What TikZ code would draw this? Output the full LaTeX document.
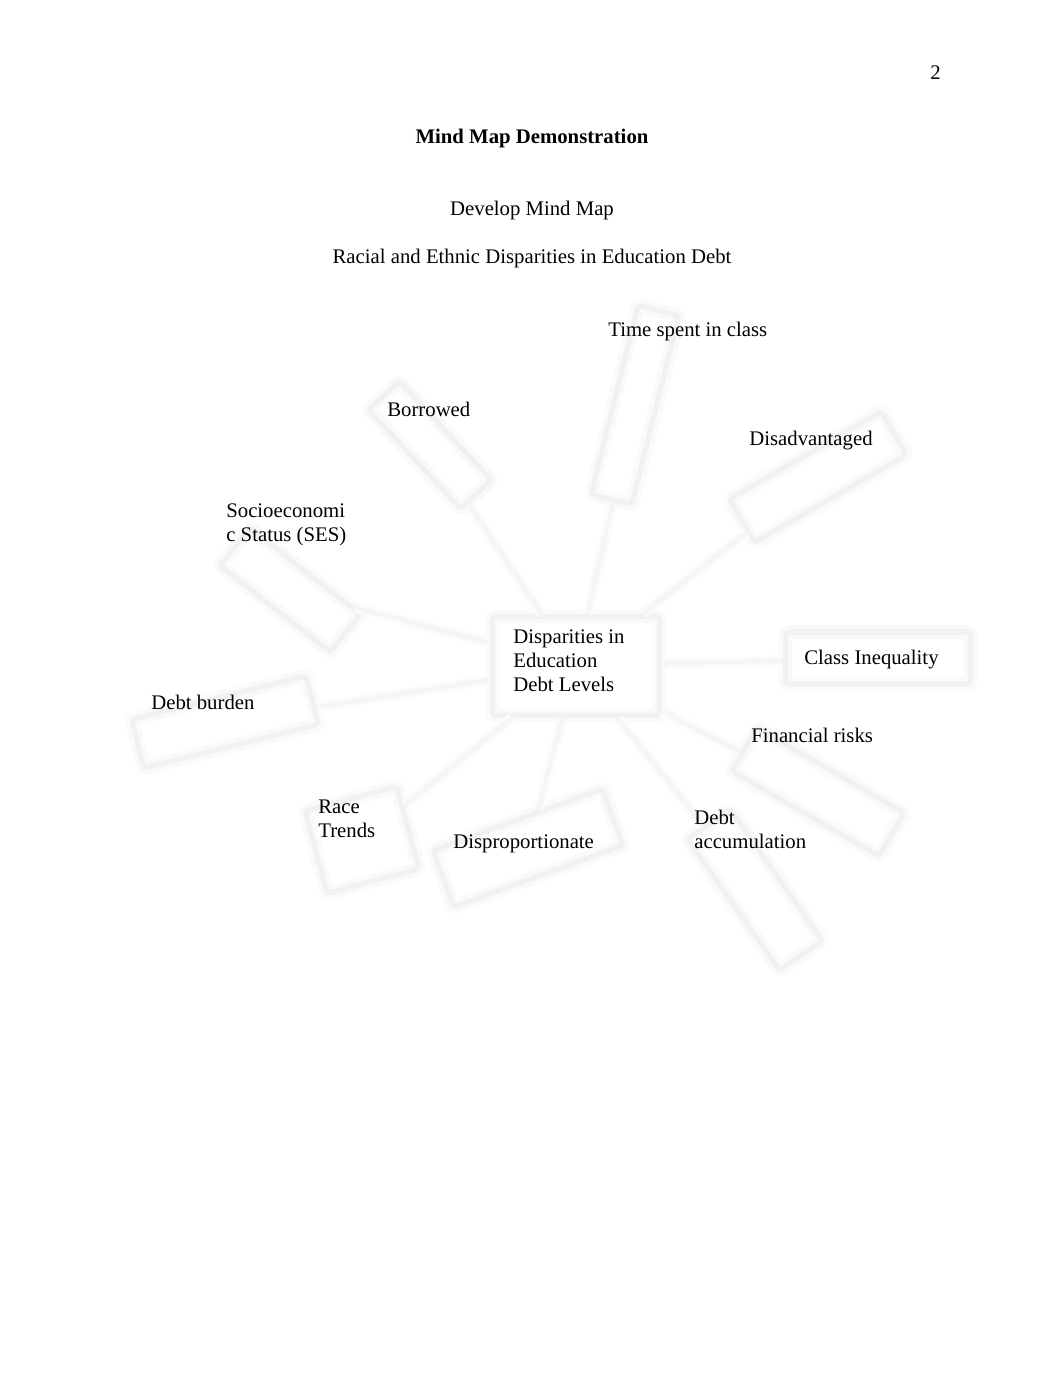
\documentclass[tikz,border=0pt]{standalone}
\usepackage{fontspec}
\setmainfont{Liberation Serif}
\usepackage{tikz}
\usetikzlibrary{positioning}

\newcommand{\pxu}{0.5784pt}

\begin{document}
\begin{tikzpicture}[
    x=0.5784pt, y=-0.5784pt,
    mapbox/.style={draw=gray!11, line width=3pt, rounded corners=2pt, inner sep=0pt,
        preaction={draw=gray!4, line width=8pt}},
    link/.style={draw=gray!8, line width=2.5pt, preaction={draw=gray!3, line width=6pt}},
    label/.style={inner sep=0pt, anchor=base west, align=left, font=\fontsize{12}{13.8}\selectfont},
    head/.style={inner sep=0pt, anchor=base, font=\fontsize{12}{13.8}\selectfont}
]
    \fill[white] (0,0) rectangle (1062,1376);
    \useasboundingbox (0,0) rectangle (1062,1376);

    % page header
    \node[label] (page) at (930,80) {2};
    \node[head, font=\fontsize{12}{13.8}\selectfont\bfseries] (title) at (532,144) {Mind Map Demonstration};
    \node[head] (sub) at (532,216) {Develop Mind Map};
    \node[head] (topic) at (532,264) {Racial and Ethnic Disparities in Education Debt};

    % boxes
    \node[mapbox, minimum width=167*\pxu, minimum height=99*\pxu] (hub) at (576,666) {};
    \node[mapbox, minimum width=195*\pxu, minimum height=42*\pxu, rotate=76] (time) at (635,405) {};
    \node[mapbox, minimum width=135*\pxu, minimum height=42*\pxu, rotate=-47] (borrow) at (430,445) {};
    \node[mapbox, minimum width=140*\pxu, minimum height=48*\pxu, rotate=-38] (ses) at (290,590) {};
    \node[mapbox, minimum width=180*\pxu, minimum height=50*\pxu, rotate=14] (burden) at (225,722) {};
    \node[mapbox, minimum width=95*\pxu, minimum height=85*\pxu, rotate=15] (race) at (362,840) {};
    \node[mapbox, minimum width=180*\pxu, minimum height=60*\pxu, rotate=20] (dispro) at (528,848) {};
    \node[mapbox, minimum width=160*\pxu, minimum height=52*\pxu, rotate=-55] (accum) at (755,890) {};
    \node[mapbox, minimum width=170*\pxu, minimum height=50*\pxu, rotate=-30] (risk) at (818,792) {};
    \node[mapbox, minimum width=185*\pxu, minimum height=52*\pxu] (class) at (878,658) {};
    \node[mapbox, minimum width=175*\pxu, minimum height=50*\pxu, rotate=30] (disadv) at (818,477) {};

    \draw[link] (hub) -- (time);
    \draw[link] (hub) -- (borrow);
    \draw[link] (hub) -- (ses);
    \draw[link] (hub) -- (burden);
    \draw[link] (hub) -- (race);
    \draw[link] (hub) -- (dispro);
    \draw[link] (hub) -- (accum);
    \draw[link] (hub) -- (risk);
    \draw[link] (hub) -- (class);
    \draw[link] (hub) -- (disadv);

    % labels (multi-line ones sit on their last line)
    \node[label] (hubtext) at (513,691) {Disparities in\\Education\\Debt Levels};
    \node[label] (timetext) at (608,337) {Time spent in class};
    \node[label] (borrowtext) at (387,417) {Borrowed};
    \node[label] (disadvtext) at (749,445) {Disadvantaged};
    \node[label] (sestext) at (226,541) {Socioeconomi\\c Status (SES)};
    \node[label] (classtext) at (804,664) {Class Inequality};
    \node[label] (burdentext) at (151,709) {Debt burden};
    \node[label] (risktext) at (751,742) {Financial risks};
    \node[label] (racetext) at (318,837) {Race\\Trends};
    \node[label] (disprotext) at (453,848) {Disproportionate};
    \node[label] (accumtext) at (694,848) {Debt\\accumulation};
\end{tikzpicture}
\end{document}
